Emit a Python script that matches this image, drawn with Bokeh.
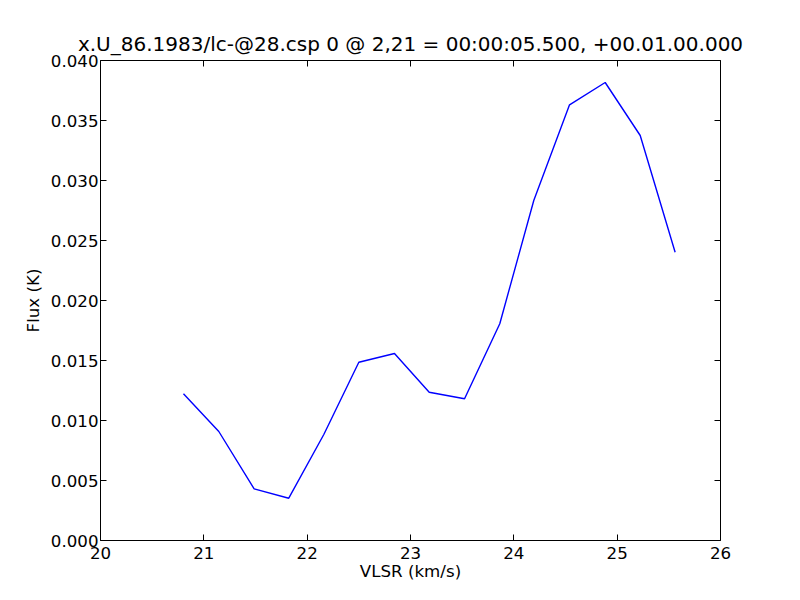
from bokeh.plotting import figure
from bokeh.models import Range1d, LinearAxis, FixedTicker, PrintfTickFormatter
from bokeh.embed import file_html
from bokeh.resources import INLINE

velocity = [20.803, 21.145, 21.487, 21.822, 22.161, 22.500, 22.845, 23.181,
            23.523, 23.864, 24.193, 24.539, 24.884, 25.223, 25.561]
flux = [0.012225, 0.009083, 0.004308, 0.003525, 0.008833, 0.014858, 0.015583,
        0.012358, 0.011808, 0.018058, 0.028333, 0.036308, 0.038167, 0.033750,
        0.024025]
x_ticks = [20, 21, 22, 23, 24, 25, 26]
y_ticks = [0.0, 0.005, 0.010, 0.015, 0.020, 0.025, 0.030, 0.035, 0.040]
title_text = "x.U_86.1983/lc-@28.csp 0 @ 2,21 = 00:00:05.500, +00.01.00.000"

FONT = "DejaVu Sans"
FS = "16.67px"

p = figure(frame_width=620, frame_height=480, output_backend="svg",
           toolbar_location=None,
           x_range=Range1d(20, 26), y_range=Range1d(0, 0.04),
           min_border_left=100, min_border_right=72, min_border_top=60,
           min_border_bottom=52, title=title_text)

p.title.text_font = FONT
p.title.text_font_size = "20px"
p.title.text_font_style = "normal"
p.title.align = "center"
p.title.text_color = "black"
p.title.standoff = 10

p.background_fill_color = "white"
p.border_fill_color = "white"
p.outline_line_color = "black"
p.outline_line_width = 1
p.outline_line_alpha = 1.0
p.grid.visible = False

p.line(velocity, flux, line_color="#0000ff", line_width=1.4)


def style_axis(ax, show_labels=True):
    ax.axis_line_color = None
    ax.major_tick_in = 6
    ax.major_tick_out = 0
    ax.minor_tick_line_color = None
    ax.major_tick_line_color = "black"
    ax.major_label_text_font = FONT
    ax.major_label_text_font_size = FS
    ax.major_label_text_color = "black" if show_labels else None
    ax.axis_label_text_font = FONT
    ax.axis_label_text_font_size = FS
    ax.axis_label_text_font_style = "normal"
    ax.axis_label_text_color = "black"


p.xaxis.ticker = FixedTicker(ticks=x_ticks)
p.yaxis.ticker = FixedTicker(ticks=y_ticks)
p.yaxis.formatter = PrintfTickFormatter(format="%.3f")
p.xaxis.axis_label = "VLSR (km/s)"
p.yaxis.axis_label = "Flux (K)"
style_axis(p.xaxis[0])
style_axis(p.yaxis[0])
p.xaxis.major_label_standoff = 6
p.yaxis.major_label_standoff = 2
p.xaxis.axis_label_standoff = 0
p.yaxis.axis_label_standoff = 5

top_ax = LinearAxis(ticker=FixedTicker(ticks=x_ticks))
right_ax = LinearAxis(ticker=FixedTicker(ticks=y_ticks))
style_axis(top_ax, False)
style_axis(right_ax, False)
p.add_layout(top_ax, "above")
p.add_layout(right_ax, "right")

open("out.html", "w").write(file_html(p, INLINE))
